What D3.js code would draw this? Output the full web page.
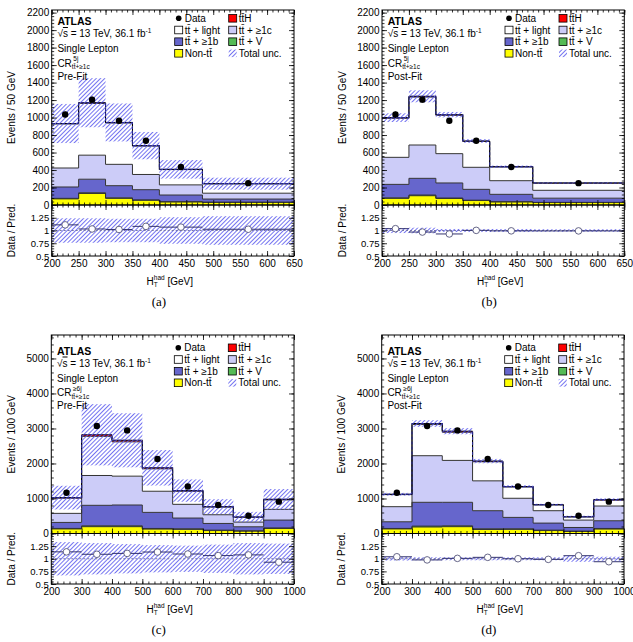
<!DOCTYPE html>
<html>
<head>
<meta charset="utf-8">
<script src="https://cdn.jsdelivr.net/npm/d3@7"></script>
<style>
body { margin: 0; background: #fff; }
text { font-family: "Liberation Sans", Arial, Helvetica, sans-serif; }
</style>
</head>
<body>
<div id="graphic"></div>
<script>
// bin edges (GeV)
var edges5j = [200, 250, 300, 350, 400, 480, 650];
var edges6j = [200, 300, 400, 500, 600, 700, 800, 900, 1000];

// observed events
var data5j = [1035, 1205, 963, 734, 435, 250];
var data6j = [1165, 3070, 2945, 2127, 1341, 814, 508, 910];

// CR 5j, pre-fit
var nonTtPre5j = [70, 132, 76, 54, 35, 30];
var ttVPre5j = [6, 8, 6, 4, 3, 2];
var ttbPre5j = [130, 155, 139, 117, 76, 36];
var ttcPre5j = [217, 275, 244, 174, 116, 67];
var lightPre5j = [503, 592, 472, 325, 175, 107];
var ttHPre5j = [6, 8, 7, 5, 3, 2];
var uncPre5j = [0.24, 0.24, 0.23, 0.23, 0.26, 0.28];

// CR 5j, post-fit
var nonTtPost5j = [76, 106, 74, 51, 35, 28];
var ttVPost5j = [6, 8, 6, 4, 3, 2];
var ttbPost5j = [154, 191, 172, 124, 84, 48];
var ttcPost5j = [309, 381, 335, 252, 156, 90];
var lightPost5j = [447, 548, 439, 296, 157, 82];
var ttHPost5j = [7, 9, 7, 5, 3, 2];
var uncPost5j = [0.05, 0.055, 0.03, 0.03, 0.03, 0.025];

// CR >=6j, pre-fit
var nonTtPre6j = [130, 195, 195, 125, 118, 84, 68, 142];
var ttVPre6j = [15, 25, 25, 19, 16, 12, 9, 18];
var ttbPre6j = [171, 585, 594, 459, 307, 191, 115, 223];
var ttcPre6j = [259, 852, 824, 604, 392, 249, 134, 307];
var lightPre6j = [435, 1118, 980, 640, 373, 218, 138, 269];
var ttHPre6j = [15, 45, 45, 30, 20, 12, 8, 18];
var uncPre6j = [0.33, 0.31, 0.29, 0.27, 0.26, 0.28, 0.31, 0.3];

// CR >=6j, post-fit
var nonTtPost6j = [130, 186, 195, 115, 118, 84, 58, 126];
var ttVPost6j = [14, 25, 25, 19, 16, 12, 9, 18];
var ttbPost6j = [191, 680, 671, 517, 326, 201, 105, 220];
var ttcPost6j = [431, 1331, 1197, 853, 546, 354, 211, 421];
var lightPost6j = [345, 890, 804, 545, 320, 164, 90, 168];
var ttHPost6j = [10, 30, 30, 20, 15, 9, 6, 14];
var uncPost6j = [0.035, 0.03, 0.03, 0.03, 0.03, 0.03, 0.06, 0.04];

var ttbar = "tt\u0304";
var keys = ["nonTt", "ttV", "ttb", "ttc", "light", "ttH"];
var colors = {nonTt: "#ffff00", ttV: "#55bb55", ttb: "#6666cc", ttc: "#ccccf8", light: "#ffffff", ttH: "#ff0000"};
var hatchColor = "rgb(100,100,240)";

var panels = [
  {edges: edges5j, data: data5j, unc: uncPre5j,
   comp: {nonTt: nonTtPre5j, ttV: ttVPre5j, ttb: ttbPre5j, ttc: ttcPre5j, light: lightPre5j, ttH: ttHPre5j},
   ymax: 2230, yMajor: 200, yMinor: 40, xMajor: 50, xMinor: 10,
   left: 51.7, right: 294, top: 10, mid: 205, bottom: 256, textTop: 10,
   ytitle: "Events / 50 GeV", njet: "5j", fit: "Pre-Fit", caption: "(a)"},
  {edges: edges5j, data: data5j, unc: uncPost5j,
   comp: {nonTt: nonTtPost5j, ttV: ttVPost5j, ttb: ttbPost5j, ttc: ttcPost5j, light: lightPost5j, ttH: ttHPost5j},
   ymax: 2230, yMajor: 200, yMinor: 40, xMajor: 50, xMinor: 10,
   left: 382, right: 624.3, top: 10, mid: 205, bottom: 256, textTop: 10,
   ytitle: "Events / 50 GeV", njet: "5j", fit: "Post-Fit", caption: "(b)"},
  {edges: edges6j, data: data6j, unc: uncPre6j,
   comp: {nonTt: nonTtPre6j, ttV: ttVPre6j, ttb: ttbPre6j, ttc: ttcPre6j, light: lightPre6j, ttH: ttHPre6j},
   ymax: 5670, yMajor: 1000, yMinor: 200, xMajor: 100, xMinor: 20,
   left: 51.3, right: 294, top: 335, mid: 533.5, bottom: 584, textTop: 339.5,
   ytitle: "Events / 100 GeV", njet: "\u22656j", fit: "Pre-Fit", caption: "(c)"},
  {edges: edges6j, data: data6j, unc: uncPost6j,
   comp: {nonTt: nonTtPost6j, ttV: ttVPost6j, ttb: ttbPost6j, ttc: ttcPost6j, light: lightPost6j, ttH: ttHPost6j},
   ymax: 5670, yMajor: 1000, yMinor: 200, xMajor: 100, xMinor: 20,
   left: 381.7, right: 624, top: 335, mid: 533.5, bottom: 584, textTop: 339.5,
   ytitle: "Events / 100 GeV", njet: "\u22656j", fit: "Post-Fit", caption: "(d)"}
];

var svg = d3.select("#graphic").append("svg").attr("width", 633).attr("height", 642);
svg.append("rect").attr("width", 633).attr("height", 642).attr("fill", "#fff");

// diagonal hatch ("///"), drawn as thin filled strips in a rotated tile
var pat = svg.append("defs").append("pattern").attr("id", "hatch")
  .attr("patternUnits", "userSpaceOnUse").attr("width", 3).attr("height", 3)
  .attr("patternTransform", "rotate(45)");
pat.append("rect").attr("x", 0).attr("y", 0).attr("width", 0.9).attr("height", 3)
  .style("fill", hatchColor);

function steps(rows) {
  var pts = [];
  rows.forEach(function(d) {
    pts.push({x: d.data.lo, y0: d[0], y1: d[1]});
    pts.push({x: d.data.hi, y0: d[0], y1: d[1]});
  });
  return pts;
}

function styleAxis(sel, size) {
  sel.select(".domain").remove();
  sel.attr("font-family", "\"Liberation Sans\", Arial, sans-serif").attr("font-size", size || 10);
  sel.selectAll("line").attr("stroke", "#000").attr("stroke-width", 0.8);
}

function addAxes(g, p, x, y, yr) {
  var xmin = p.edges[0], xmax = p.edges[p.edges.length - 1];
  var xMinorV = d3.range(xmin, xmax + 0.01, p.xMinor);
  var xMajorV = d3.range(xmin, xmax + 0.01, p.xMajor);
  var yMinorV = d3.range(0, p.ymax, p.yMinor);
  var yMajorV = d3.range(0, p.ymax, p.yMajor);
  var rMinorV = d3.range(0.5, 1.5, 0.05);
  var rMajorV = [0.5, 0.75, 1, 1.25];

  // x ticks on main top / bottom and ratio top / bottom
  [[p.top, d3.axisTop], [p.mid, d3.axisBottom], [p.mid, d3.axisTop], [p.bottom, d3.axisBottom]].forEach(function(a, i) {
    g.append("g").attr("transform", "translate(0," + a[0] + ")")
      .call(a[1](x).tickValues(xMinorV).tickSize(-2.5).tickFormat("")).call(styleAxis);
    var ax = a[1](x).tickValues(xMajorV).tickSize(-5).tickPadding(3.5);
    ax.tickFormat(i == 3 ? d3.format("d") : "");
    g.append("g").attr("transform", "translate(0," + a[0] + ")").call(ax).call(styleAxis);
  });

  // y ticks, main
  g.append("g").attr("transform", "translate(" + p.left + ",0)")
    .call(d3.axisLeft(y).tickValues(yMinorV).tickSize(-2.5).tickFormat("")).call(styleAxis);
  g.append("g").attr("transform", "translate(" + p.left + ",0)")
    .call(d3.axisLeft(y).tickValues(yMajorV).tickSize(-5).tickPadding(2.5).tickFormat(d3.format("d"))).call(styleAxis);
  g.append("g").attr("transform", "translate(" + p.right + ",0)")
    .call(d3.axisRight(y).tickValues(yMinorV).tickSize(-2.5).tickFormat("")).call(styleAxis);
  g.append("g").attr("transform", "translate(" + p.right + ",0)")
    .call(d3.axisRight(y).tickValues(yMajorV).tickSize(-5).tickFormat("")).call(styleAxis);

  // y ticks, ratio
  g.append("g").attr("transform", "translate(" + p.left + ",0)")
    .call(d3.axisLeft(yr).tickValues(rMinorV).tickSize(-2.5).tickFormat("")).call(styleAxis);
  g.append("g").attr("transform", "translate(" + p.left + ",0)")
    .call(d3.axisLeft(yr).tickValues(rMajorV).tickSize(-5).tickPadding(2.5).tickFormat(function(d) { return String(d); }))
    .call(styleAxis, 9.5);
  g.append("g").attr("transform", "translate(" + p.right + ",0)")
    .call(d3.axisRight(yr).tickValues(rMinorV).tickSize(-2.5).tickFormat("")).call(styleAxis);
  g.append("g").attr("transform", "translate(" + p.right + ",0)")
    .call(d3.axisRight(yr).tickValues(rMajorV).tickSize(-5).tickFormat("")).call(styleAxis);
}

function addLabels(g, p) {
  var L = p.left, T = p.textTop;
  g.append("text").attr("x", L + 5.7).attr("y", T + 15.3).attr("font-size", 10.5)
    .attr("font-weight", "bold").text("ATLAS");

  var s = g.append("text").attr("x", L + 5.7).attr("y", T + 27).attr("font-size", 10);
  s.append("tspan").text("\u221A");
  s.append("tspan").style("text-decoration", "overline").text("s");
  s.append("tspan").text(" = 13 TeV, 36.1 fb");
  s.append("tspan").attr("font-size", 6.5).attr("dy", -4).text("-1");

  g.append("text").attr("x", L + 5.7).attr("y", T + 42.3).attr("font-size", 10).text("Single Lepton");

  var cr = g.append("text").attr("x", L + 5.7).attr("y", T + 56.7).attr("font-size", 10);
  cr.append("tspan").text("CR");
  var sup = cr.append("tspan").attr("font-size", 6.5).attr("dx", 1.5).attr("dy", -5.7).text(p.njet);
  var sub = cr.append("tspan").attr("font-size", 6.5).attr("dy", 8).text(ttbar + "+\u22651c");
  sub.attr("dx", -sup.node().getComputedTextLength() - 1.5);

  g.append("text").attr("x", L + 5.7).attr("y", T + 69.8).attr("font-size", 10).text(p.fit);

  // legend
  var rowsY = [8.3, 20, 31.7, 43.3];
  var entries = [
    [0, 0, "data", "Data"], [1, 0, "ttH", ttbar + "H"],
    [0, 1, "light", ttbar + " + light"], [1, 1, "ttc", ttbar + " + \u22651c"],
    [0, 2, "ttb", ttbar + " + \u22651b"], [1, 2, "ttV", ttbar + " + V"],
    [0, 3, "nonTt", "Non-" + ttbar], [1, 3, "unc", "Total unc."]
  ];
  entries.forEach(function(e) {
    var bx = L + (e[0] ? 177 : 123), cy = T + rowsY[e[1]];
    if (e[2] == "data") {
      g.append("circle").attr("cx", bx + 4).attr("cy", cy).attr("r", 2.8).attr("fill", "#000");
    } else if (e[2] == "unc") {
      g.append("rect").attr("x", bx).attr("y", cy - 3.8).attr("width", 8).attr("height", 7.6).attr("fill", "url(#hatch)");
    } else {
      g.append("rect").attr("x", bx).attr("y", cy - 3.8).attr("width", 8).attr("height", 7.6)
        .attr("fill", colors[e[2]]).attr("stroke", "#000").attr("stroke-width", 0.8);
    }
    g.append("text").attr("x", bx + 10).attr("y", cy + 3.6).attr("font-size", 10).text(e[3]);
  });

  // axis titles
  var ym = (p.top + p.mid) / 2, yrm = (p.mid + p.bottom) / 2;
  g.append("text").attr("transform", "translate(" + (L - 36.5) + "," + ym + ") rotate(-90)")
    .attr("text-anchor", "middle").attr("font-size", 10).text(p.ytitle);
  g.append("text").attr("transform", "translate(" + (L - 36.5) + "," + yrm + ") rotate(-90)")
    .attr("text-anchor", "middle").attr("font-size", 10).text("Data / Pred.");

  var xt = g.append("text").attr("x", (p.left + p.right) / 2 - 3).attr("y", p.bottom + 28.5)
    .attr("text-anchor", "middle").attr("font-size", 10);
  xt.append("tspan").text("H");
  var t = xt.append("tspan").attr("font-size", 6.5).attr("dy", 2.5).text("T");
  xt.append("tspan").attr("font-size", 6.5).attr("dy", -7).attr("dx", -t.node().getComputedTextLength()).text("had");
  xt.append("tspan").attr("dy", 4.5).text(" [GeV]");

  g.append("text").attr("x", (p.left + p.right) / 2 - 14).attr("y", p.bottom + 50)
    .attr("text-anchor", "middle").attr("font-size", 13)
    .style("font-family", "\"Liberation Serif\", \"Times New Roman\", serif").text(p.caption);
}

function drawPanel(p) {
  var g = svg.append("g");
  var xmin = p.edges[0], xmax = p.edges[p.edges.length - 1];
  var x = d3.scaleLinear().domain([xmin, xmax]).range([p.left, p.right]);
  var y = d3.scaleLinear().domain([0, p.ymax]).range([p.mid, p.top]);
  var yr = d3.scaleLinear().domain([0.5, 1.5]).range([p.bottom, p.mid]);

  var rows = p.edges.slice(0, -1).map(function(lo, i) {
    var r = {lo: lo, hi: p.edges[i + 1], data: p.data[i], unc: p.unc[i]};
    keys.forEach(function(k) { r[k] = p.comp[k][i]; });
    return r;
  });
  var series = d3.stack().keys(keys)(rows);
  rows.forEach(function(r, i) { r.total = series[series.length - 1][i][1]; });

  var area = d3.area().x(function(d) { return x(d.x); })
    .y0(function(d) { return y(d.y0); }).y1(function(d) { return y(d.y1); });
  var line = d3.line().x(function(d) { return x(d.x); }).y(function(d) { return y(d.y1); });

  series.forEach(function(s) {
    g.append("path").datum(steps(s)).attr("d", area).attr("fill", colors[s.key]);
  });
  series.forEach(function(s) {
    g.append("path").datum(steps(s)).attr("d", line).attr("fill", "none")
      .attr("stroke", s.key == "ttH" ? "#000" : "#333").attr("stroke-width", 1);
  });

  // uncertainty band
  g.selectAll(".band").data(rows).enter().append("rect")
    .attr("x", function(d) { return x(d.lo); })
    .attr("width", function(d) { return x(d.hi) - x(d.lo); })
    .attr("y", function(d) { return y(d.total * (1 + d.unc)); })
    .attr("height", function(d) { return y(d.total * (1 - d.unc)) - y(d.total * (1 + d.unc)); })
    .attr("fill", "url(#hatch)");
  g.append("path").datum(steps(series[series.length - 1])).attr("d", line).attr("fill", "none")
    .attr("stroke", "#2a2a8c").attr("stroke-width", 1.1).attr("stroke-dasharray", "3,2");

  // data
  rows.forEach(function(d) {
    var cx = x((d.lo + d.hi) / 2), e = Math.sqrt(d.data);
    g.append("line").attr("x1", cx).attr("x2", cx).attr("y1", y(d.data - e)).attr("y2", y(d.data + e))
      .attr("stroke", "#000").attr("stroke-width", 1);
    g.append("circle").attr("cx", cx).attr("cy", y(d.data)).attr("r", 3.2).attr("fill", "#000");
  });

  // ratio panel
  g.selectAll(".rband").data(rows).enter().append("rect")
    .attr("x", function(d) { return x(d.lo); })
    .attr("width", function(d) { return x(d.hi) - x(d.lo); })
    .attr("y", function(d) { return yr(1 + d.unc); })
    .attr("height", function(d) { return yr(1 - d.unc) - yr(1 + d.unc); })
    .attr("fill", "url(#hatch)");
  g.append("line").attr("x1", p.left).attr("x2", p.right).attr("y1", yr(1)).attr("y2", yr(1))
    .attr("stroke", "#7777aa").attr("stroke-width", 1).attr("stroke-dasharray", "2,2");
  rows.forEach(function(d) {
    var ratio = d.data / d.total, cx = x((d.lo + d.hi) / 2);
    g.append("line").attr("x1", x(d.lo)).attr("x2", x(d.hi)).attr("y1", yr(ratio)).attr("y2", yr(ratio))
      .attr("stroke", "#33336e").attr("stroke-width", 1);
    g.append("circle").attr("cx", cx).attr("cy", yr(ratio)).attr("r", 3.3)
      .attr("fill", "#fff").attr("stroke", "#55557a").attr("stroke-width", 0.9);
  });

  // frames
  g.append("rect").attr("x", p.left).attr("y", p.top).attr("width", p.right - p.left).attr("height", p.mid - p.top)
    .attr("fill", "none").attr("stroke", "#000").attr("stroke-width", 1);
  g.append("rect").attr("x", p.left).attr("y", p.mid).attr("width", p.right - p.left).attr("height", p.bottom - p.mid)
    .attr("fill", "none").attr("stroke", "#000").attr("stroke-width", 1);

  addAxes(g, p, x, y, yr);
  addLabels(g, p);
}

panels.forEach(drawPanel);
</script>
</body>
</html>
